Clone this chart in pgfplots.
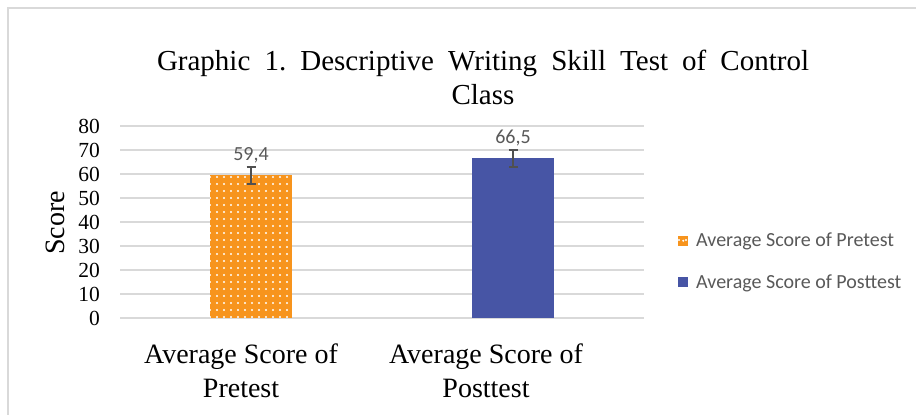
\documentclass[border=0pt]{standalone}
\usepackage{fontspec}
\setmainfont{Liberation Serif}
\newfontfamily\carlito{Carlito}
\usepackage{pgfplots}
\pgfplotsset{compat=1.18}
\usetikzlibrary{patterns.meta}
\definecolor{gridgray}{RGB}{217,217,217}
\definecolor{labelgray}{RGB}{89,89,89}
\definecolor{errgray}{RGB}{80,80,80}
\definecolor{preorange}{RGB}{247,148,29}
\definecolor{postblue}{RGB}{71,85,165}
\frenchspacing
\begin{document}
\begin{tikzpicture}[x=1pt,y=1pt]
\useasboundingbox (0,0) rectangle (916,415);
\fill[white] (0,0) rectangle (916,415);
\draw[gridgray, line width=1.5pt] (8,0) -- (8,407) -- (916,407);
\node[font=\fontsize{29}{34}\selectfont, anchor=base, inner sep=0pt] at (483,344) {\makebox[652pt][s]{Graphic 1. Descriptive Writing Skill Test of Control}};
\node[font=\fontsize{29}{34}\selectfont, anchor=base, inner sep=0pt] at (483,310) {Class};
\begin{axis}[
  at={(120pt,97pt)}, anchor=south west,
  scale only axis, width=524pt, height=192pt,
  xmin=-0.5, xmax=1.5, ymin=0, ymax=80,
  ytick={0,10,...,80},
  xtick={-0.038,0.897},
  xticklabels={{Average Score of\\Pretest},{Average Score of\\Posttest}},
  xticklabel style={align=center, font=\fontsize{28}{34}\selectfont, inner sep=0pt, yshift=-26pt},
  yticklabel style={font=\fontsize{21.5}{24}\selectfont, inner sep=0pt},
  yticklabel shift=20pt,
  /pgf/number format/assume math mode=true,
  ymajorgrids, grid style={gridgray, line width=1.5pt},
  axis line style={draw=none},
  major tick length=0pt,
  ylabel={Score},
  every axis y label/.style={at={(axis description cs:-0.124,0.495)}, rotate=90, anchor=center, font=\fontsize{28}{34}\selectfont},
  ybar, bar width=82pt,
  nodes near coords, point meta=explicit symbolic,
  every node near coord/.append style={font=\carlito\fontsize{20}{24}\selectfont, text=labelgray, anchor=base, yshift=14.5pt, inner sep=0pt},
  legend style={at={(1.0592,0.4635)}, anchor=north west, draw=none, fill=none,
    font=\carlito\fontsize{20}{24}\selectfont, text=labelgray, row sep=22pt,
    /tikz/every odd column/.append style={column sep=6pt}},
  legend cell align=left,
  clip=false,
]
\addplot[fill=preorange, draw=none, bar shift=0pt,
  postaction={pattern={Dots[radius=1.1pt,distance=7pt]}, pattern color=white},
  legend image code/.code={\fill[preorange] (0pt,-5pt) rectangle (10pt,5pt); \fill[white] (5pt,0pt) circle (1.1pt);},
  error bars/.cd, y dir=both, y explicit,
  error bar style={line width=1.5pt, draw=errgray},
  error mark options={rotate=90, mark size=4.5pt, line width=1.5pt, draw=errgray}]
  table[x=x, y=y, y error=e, meta=l] {
x y e l
0 59.4 3.6 59,4
};
\addplot[fill=postblue, draw=none, bar shift=0pt,
  legend image code/.code={\fill[postblue] (0pt,-5pt) rectangle (10pt,5pt);},
  error bars/.cd, y dir=both, y explicit,
  error bar style={line width=1.5pt, draw=errgray},
  error mark options={rotate=90, mark size=4.5pt, line width=1.5pt, draw=errgray}]
  table[x=x, y=y, y error=e, meta=l] {
x y e l
1 66.5 3.5 66,5
};
\legend{Average Score of Pretest, Average Score of Posttest}
\end{axis}
\end{tikzpicture}
\end{document}
